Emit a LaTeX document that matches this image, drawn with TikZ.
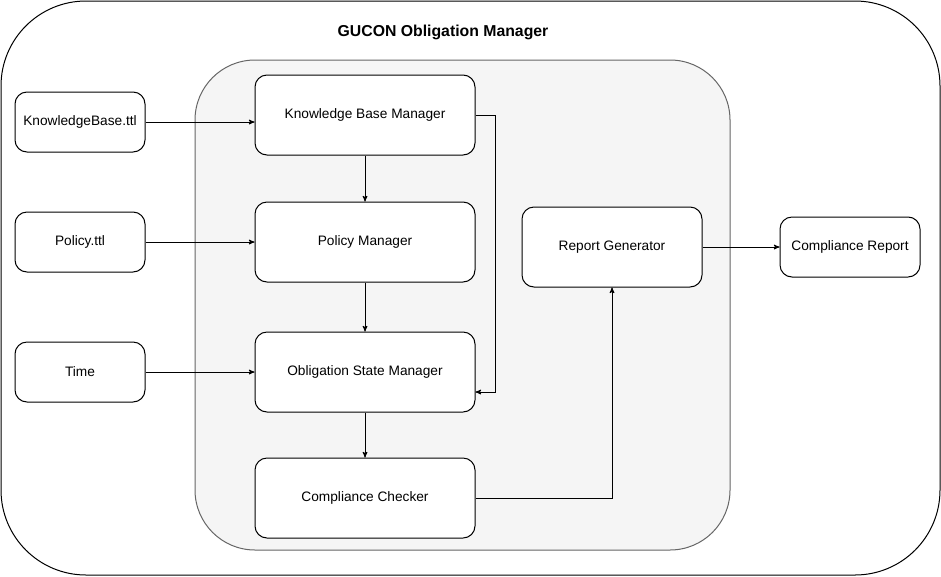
\documentclass[tikz,border=0pt]{standalone}
\usepackage{fontspec}
\setmainfont{Liberation Sans}
\usetikzlibrary{arrows}

\begin{document}
\begin{tikzpicture}[x=1pt,y=-1pt,>=stealth',line width=1pt,
  box/.style={draw,rounded corners=12pt,fill=white,align=center,inner sep=0pt,font=\fontsize{13.7}{16}\selectfont},
  file/.style={box,minimum width=130pt,minimum height=60pt},
  mgr/.style={box,minimum width=220pt,minimum height=80pt}]

  \useasboundingbox (0,0) rectangle (941,576);

  % outer frame and grey module area
  \draw[rounded corners=85pt] (1,1) rectangle (940,575);
  \draw[rounded corners=60pt,fill=black!4,draw=black!60] (195,60) rectangle (730,550);
  \node[font=\bfseries\fontsize{15.8}{18}\selectfont] (title) at (443,32) {GUCON Obligation Manager};

  \node[file] (kbttl) at (80,122) {KnowledgeBase.ttl};
  \node[file] (polttl) at (80,242) {Policy.ttl};
  \node[file] (time) at (80,372) {Time};

  \node[mgr] (kbm) at (365,115) {Knowledge Base Manager};
  \node[mgr] (pm) at (365,242) {Policy Manager};
  \node[mgr] (osm) at (365,372) {Obligation State Manager};
  \node[mgr] (cc) at (365,498) {Compliance Checker};

  \node[box,minimum width=180pt,minimum height=80pt] (rg) at (612,247) {Report Generator};
  \node[box,minimum width=140pt,minimum height=60pt] (cr) at (850,247) {Compliance Report};

  \path[->]
    (kbttl) edge (kbttl -| kbm.west)
    (polttl) edge (pm)
    (time) edge (osm)
    (kbm) edge (pm)
    (pm) edge (osm)
    (osm) edge (cc)
    (rg) edge (cr)
    ;
  \draw[->] (kbm.east) -- ++(20,0) |- ([yshift=-20pt]osm.east);
  \draw[->] (cc.east) -| (rg.south);
\end{tikzpicture}
\end{document}
